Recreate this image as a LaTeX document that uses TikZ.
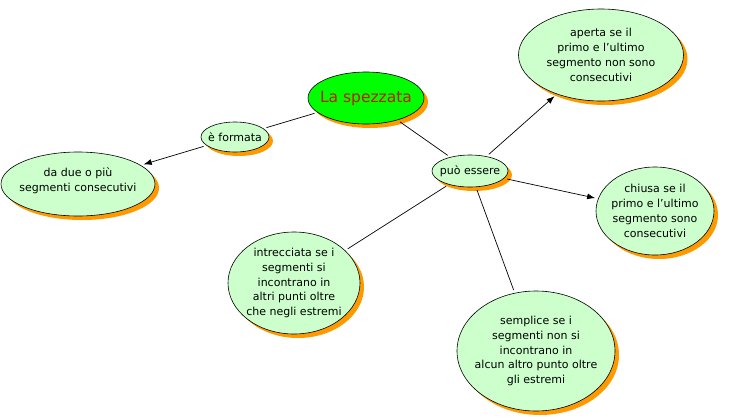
\documentclass[tikz,border=0pt]{standalone}
\usepackage{fontspec}
\setmainfont{DejaVu Sans}
\usetikzlibrary{shapes.geometric,arrows.meta,shadows}
\definecolor{lgreen}{RGB}{204,255,204}
\definecolor{bgreen}{RGB}{0,255,0}
\definecolor{shad}{RGB}{255,153,0}
\definecolor{titlered}{RGB}{190,30,0}
\begin{document}
\begin{tikzpicture}[x=1pt,y=-1pt,
  bub/.style={ellipse,draw=black,line width=0.6pt,fill=lgreen,inner sep=0pt,
    drop shadow={fill=shad,opacity=1,shadow xshift=4pt,shadow yshift=-4pt}},
  txt/.style={align=center,inner sep=0pt,font=\fontsize{11}{14.8}\selectfont},
  conn/.style={line width=0.7pt,shorten <=3pt,shorten >=3pt},
  arr/.style={conn,-{Latex[length=8pt,width=6pt]}}]
\useasboundingbox (0,0) rectangle (740,416);
\node[bub,fill=bgreen,minimum width=116pt,minimum height=52pt] (sp) at (366,98) {};
\node[txt,text=titlered,font=\fontsize{15.5}{17}\selectfont] (spt) at (sp.center) {La spezzata};
\node[bub,minimum width=68pt,minimum height=30pt] (ef) at (235,137) {};
\node[txt] (eft) at (ef.center) {è formata};
\node[bub,minimum width=76pt,minimum height=32pt] (pe) at (470,171) {};
\node[txt] (pet) at (pe.center) {può essere};
\node[bub,minimum width=154pt,minimum height=64pt] (dd) at (78,184) {};
\node[txt] (ddt) at ([yshift=3pt]dd.center) {da due o più\\segmenti consecutivi};
\node[bub,minimum width=165pt,minimum height=92pt] (ap) at (601,55) {};
\node[txt] (apt) at (ap.center) {aperta se il\\primo e l'ultimo\\segmento non sono\\consecutivi};
\node[bub,minimum width=118pt,minimum height=88pt] (ch) at (655,211) {};
\node[txt] (cht) at (ch.center) {chiusa se il\\primo e l'ultimo\\segmento sono\\consecutivi};
\node[bub,minimum width=132pt,minimum height=102pt] (in) at (294,283) {};
\node[txt] (int) at (in.center) {intrecciata se i\\segmenti si\\incontrano in\\altri punti oltre\\che negli estremi};
\node[bub,minimum width=158pt,minimum height=120pt] (se) at (536,351) {};
\node[txt] (set) at (se.center) {semplice se i\\segmenti non si\\incontrano in\\alcun altro punto oltre\\gli estremi};
\draw[conn] (sp) -- (ef);
\draw[arr] (ef) -- (dd);
\draw[conn] (sp) -- (pe);
\draw[arr] (pe) -- (ap);
\draw[arr] (pe) -- (ch);
\draw[conn] (pe) -- (in);
\draw[conn] (pe) -- (se);
\end{tikzpicture}
\end{document}
